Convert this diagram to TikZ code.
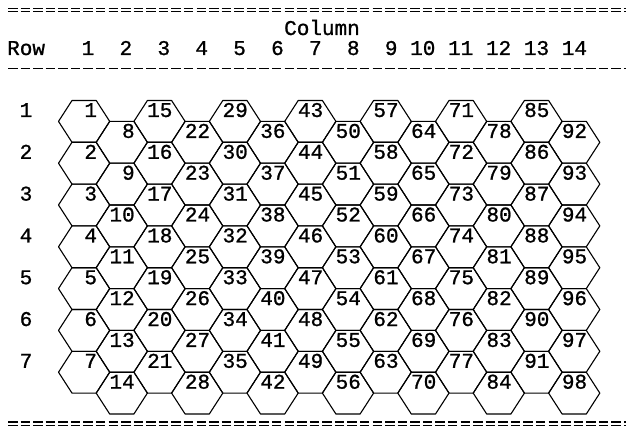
\documentclass[tikz,border=0pt]{standalone}
\usepackage{fontspec}
\newfontfamily\hexfont[FakeBold=1]{Liberation Mono}
\begin{document}
\begin{tikzpicture}[x=1pt,y=-1pt,
  hexline/.style={line width=1.1pt, line join=round},
  lbl/.style={font=\hexfont\fontsize{21}{21}\selectfont, inner sep=0pt},
  rulestyle/.style={line width=1.1pt, dash pattern=on 9.5pt off 3.07pt}]
\useasboundingbox (0,0) rectangle (628,430);
% rules
\coordinate (ta1) at (8,8.6);   \coordinate (tb1) at (626,8.6);
\coordinate (ta2) at (8,11.6);  \coordinate (tb2) at (626,11.6);
\coordinate (ma) at (8,68.3);   \coordinate (mb) at (626,68.3);
\coordinate (ba1) at (8,422);   \coordinate (bb1) at (626,422);
\coordinate (ba2) at (8,425.2); \coordinate (bb2) at (626,425.2);
\draw[rulestyle] (ta1) -- (tb1);
\draw[rulestyle] (ta2) -- (tb2);
\draw[rulestyle] (ma) -- (mb);
\draw[rulestyle] (ba1) -- (bb1);
\draw[rulestyle] (ba2) -- (bb2);
% header
\node[lbl, anchor=base] (coltitle) at (322,35) {Column};
\node[lbl, anchor=base west] (rowtitle) at (7,55) {Row};
\foreach \j in {1,...,14} {
  \pgfmathsetmacro\cx{88+37.9*(\j-1)-(\j>9)*6.3}
  \node[lbl, anchor=base] (c\j) at (\cx,55) {\j};
}
% row labels
\foreach \r in {1,...,7} {
  \node[lbl, anchor=base] (r\r) at (26,117+41.8*\r-41.8) {\r};
}
% hexagons
\foreach \c in {1,...,14} {
  \pgfmathsetmacro\L{58.5+(\c-1)*37.7}
  \pgfmathsetmacro\off{mod(\c+1,2)*20.9}
  \foreach \r in {1,...,7} {
    \pgfmathsetmacro\T{100.5+\off+(\r-1)*41.8}
    \pgfmathtruncatemacro\n{(\c-1)*7+\r}
    \draw[hexline] (\L,\T+20.9) -- (\L+13.5,\T) -- (\L+37.7,\T) -- (\L+51.2,\T+20.9) -- (\L+37.7,\T+41.8) -- (\L+13.5,\T+41.8) -- cycle;
    \node[lbl, anchor=base east] (h\n) at (\L+38.7,\T+16.5) {\n};
  }
}
\end{tikzpicture}
\end{document}
